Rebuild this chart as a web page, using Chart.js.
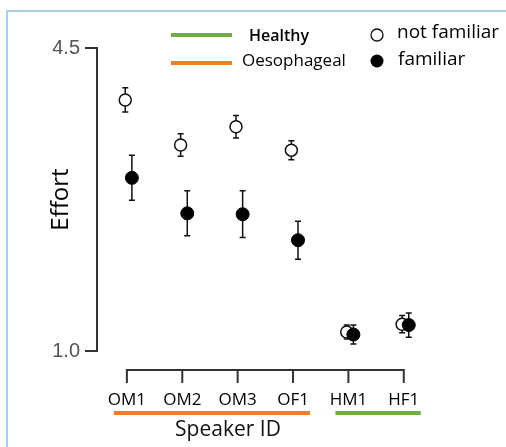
<!DOCTYPE html>
<html>
<head>
<meta charset="utf-8">
<title>Effort by speaker</title>
<script src="https://cdn.jsdelivr.net/npm/chart.js@4.4.0/dist/chart.umd.min.js"></script>
<style>
  html, body { margin: 0; padding: 0; background: #fff; }
  #wrap { position: relative; width: 506px; height: 447px; overflow: hidden; }
  #frame {
    position: absolute; left: 6px; top: 10px; width: 600px; height: 600px;
    border-left: 2px solid #a9cdee; border-top: 2px solid #a9cdee;
  }
  #chart { position: absolute; left: 0; top: 0; }
</style>
</head>
<body>
<div id="wrap">
  <div id="frame"></div>
  <canvas id="chart" width="506" height="447"></canvas>
</div>
<script>
// Data
const speakers = ["OM1", "OM2", "OM3", "OF1", "HM1", "HF1"];
const notFamiliar = [3.90, 3.38, 3.59, 3.32, 1.22, 1.31];
const notFamiliarErr = [0.14, 0.13, 0.13, 0.11, 0.08, 0.10];
const familiar = [3.00, 2.59, 2.58, 2.28, 1.19, 1.30];
const familiarErr = [0.26, 0.26, 0.27, 0.22, 0.11, 0.14];
const yTicks = [1.0, 4.5];
const groups = [
  { name: "Healthy", first: 4, last: 5, color: "#70ad47" },
  { name: "Oesophageal", first: 0, last: 3, color: "#ed7d31" },
];

const FONT = "'Open Sans', sans-serif";
const SHIFT_OPEN = -0.03;
const SHIFT_FILLED = 0.09;

// Error bars, drawn under the markers
const errorBars = {
  id: "errorBars",
  beforeDatasetsDraw(chart) {
    const { ctx, scales: { x, y } } = chart;
    ctx.save();
    ctx.strokeStyle = "#111";
    ctx.lineWidth = 1.5;
    const sets = [
      [familiar, familiarErr, SHIFT_FILLED],
      [notFamiliar, notFamiliarErr, SHIFT_OPEN],
    ];
    sets.forEach(([vals, errs, shift]) => {
      vals.forEach((v, i) => {
        const px = x.getPixelForValue(i + shift);
        const top = y.getPixelForValue(v + errs[i]);
        const bot = y.getPixelForValue(v - errs[i]);
        ctx.beginPath();
        ctx.moveTo(px, top); ctx.lineTo(px, bot);
        ctx.moveTo(px - 3, top); ctx.lineTo(px + 3, top);
        ctx.moveTo(px - 3, bot); ctx.lineTo(px + 3, bot);
        ctx.stroke();
      });
    });
    ctx.restore();
  },
};

// Bracket axis, group underlines, axis title and legend
const decorations = {
  id: "decorations",
  afterDraw(chart) {
    const { ctx, scales: { x }, chartArea } = chart;
    ctx.save();

    // x bracket
    const by = chartArea.bottom + 19;
    const x0 = x.getPixelForValue(0);
    const x1 = x.getPixelForValue(speakers.length - 1);
    ctx.strokeStyle = "#333";
    ctx.lineWidth = 2;
    ctx.beginPath();
    ctx.moveTo(x0, by); ctx.lineTo(x1, by);
    speakers.forEach((s, i) => {
      const px = x.getPixelForValue(i);
      ctx.moveTo(px, by - 1); ctx.lineTo(px, by + 13);
    });
    ctx.stroke();

    // group underlines
    ctx.lineWidth = 4;
    groups.forEach((g) => {
      ctx.strokeStyle = g.color;
      ctx.beginPath();
      ctx.moveTo(x.getPixelForValue(g.first) - 13, 413);
      ctx.lineTo(x.getPixelForValue(g.last) + 17, 413);
      ctx.stroke();
    });

    // x title
    ctx.fillStyle = "#111";
    ctx.font = "21px " + FONT;
    ctx.textAlign = "center";
    ctx.textBaseline = "middle";
    ctx.fillText("Speaker ID", 228, 430);

    // legend: groups
    ctx.textAlign = "left";
    groups.forEach((g, k) => {
      const ly = k === 0 ? 35 : 63;
      ctx.strokeStyle = g.color;
      ctx.lineWidth = 4;
      ctx.beginPath();
      ctx.moveTo(171, ly); ctx.lineTo(232, ly);
      ctx.stroke();
      ctx.fillStyle = "#000";
      ctx.font = (k === 0 ? "600 16px " : "17px ") + FONT;
      ctx.fillText(g.name, k === 0 ? 249 : 242, k === 0 ? 36 : 61);
    });

    // legend: familiarity
    ctx.font = "19px " + FONT;
    ctx.lineWidth = 1.3;
    ctx.strokeStyle = "#111";
    ctx.fillStyle = "#fff";
    ctx.beginPath(); ctx.arc(377, 35, 6, 0, Math.PI * 2); ctx.fill(); ctx.stroke();
    ctx.fillStyle = "#000";
    ctx.beginPath(); ctx.arc(377, 61, 6.5, 0, Math.PI * 2); ctx.fill();
    ctx.fillText("not familiar", 397, 33);
    ctx.fillText("familiar", 398, 60);

    ctx.restore();
  },
};

new Chart(document.getElementById("chart"), {
  type: "scatter",
  data: {
    datasets: [
      {
        label: "familiar",
        data: familiar.map((v, i) => ({ x: i + SHIFT_FILLED, y: v })),
        pointRadius: 6.5,
        backgroundColor: "#000",
        borderColor: "#000",
        borderWidth: 1,
      },
      {
        label: "not familiar",
        data: notFamiliar.map((v, i) => ({ x: i + SHIFT_OPEN, y: v })),
        pointRadius: 6,
        backgroundColor: "#fff",
        borderColor: "#111",
        borderWidth: 1.5,
      },
    ],
  },
  options: {
    responsive: false,
    animation: false,
    events: [],
    layout: { padding: { left: 7, top: 48, right: 69, bottom: 0 } },
    plugins: { legend: { display: false }, tooltip: { enabled: false } },
    scales: {
      x: {
        type: "linear",
        min: -0.54,
        max: 5.6,
        afterFit: (scale) => { scale.height = 96; },
        afterBuildTicks: (scale) => { scale.ticks = speakers.map((s, i) => ({ value: i })); },
        grid: { display: false, drawTicks: false },
        border: { display: false },
        ticks: {
          autoSkip: false,
          maxRotation: 0,
          padding: 39,
          color: "#000",
          font: { family: FONT, size: 17 },
          callback: (v) => speakers[v],
        },
      },
      y: {
        min: 1.0,
        max: 4.5,
        afterFit: (scale) => { scale.width = 90; },
        afterBuildTicks: (scale) => { scale.ticks = yTicks.map((v) => ({ value: v })); },
        grid: { display: true, drawOnChartArea: false, drawTicks: true, tickLength: 12, color: "#333", lineWidth: 2 },
        border: { display: true, color: "#333", width: 2 },
        ticks: {
          padding: 5,
          color: "#555",
          font: { family: "'Liberation Sans', Arial, sans-serif", size: 20 },
          callback: (v) => v.toFixed(1),
        },
        title: {
          display: true,
          text: "Effort",
          color: "#000",
          font: { family: FONT, size: 24 },
          padding: { top: 40, bottom: 0 },
        },
      },
    },
  },
  plugins: [errorBars, decorations],
});
</script>
</body>
</html>
